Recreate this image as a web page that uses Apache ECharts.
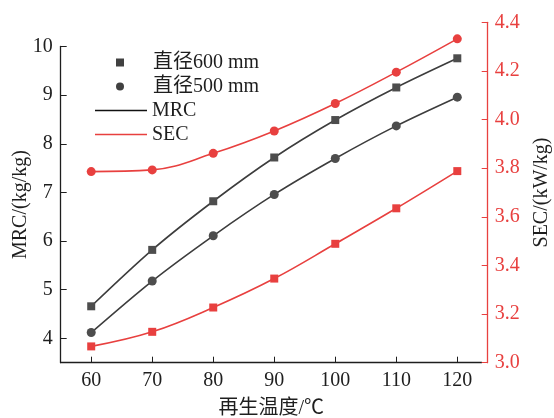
<!DOCTYPE html>
<html><head><meta charset="utf-8">
<script src="https://cdn.jsdelivr.net/npm/echarts@6/dist/echarts.min.js"></script>
<style>html,body{margin:0;padding:0;background:#fff;}#c{width:554px;height:418px;}</style>
</head><body><div id="c"></div>
<script>
const temps = [60, 70, 80, 90, 100, 110, 120];
const mrc600 = [4.66, 5.82, 6.82, 7.72, 8.49, 9.16, 9.76];
const mrc500 = [4.12, 5.18, 6.11, 6.96, 7.70, 8.37, 8.96];
const sec600 = [3.067, 3.127, 3.227, 3.346, 3.489, 3.635, 3.788];
const sec500 = [3.786, 3.793, 3.861, 3.953, 4.066, 4.195, 4.332];
const xTicks = [60, 70, 80, 90, 100, 110, 120];
const mrcTicks = [4, 5, 6, 7, 8, 9, 10];

const FONT = "'Liberation Serif', 'Times New Roman', 'Noto Sans CJK SC', serif";
const RED = '#e8403f';
const DARK = '#3d3d3d';
const MARK = '#4d4d4d';
const AX = '#1e1e1e';

function pairs(ys) { return temps.map((t, i) => [t, ys[i]]); }

const chart = echarts.init(document.getElementById('c'), null, {renderer: 'canvas'});
chart.setOption({
  animation: false,
  backgroundColor: '#fff',
  textStyle: {fontFamily: FONT},
  grid: [
    {left: 60.7, right: 72.3, top: 22.3, bottom: 55.3, containLabel: false, outerBoundsMode: 'none'},
    {left: 60.7, right: 72.3, top: 46.5, bottom: 55.3, containLabel: false, outerBoundsMode: 'none'}
  ],
  xAxis: [
    {type: 'value', gridIndex: 0, min: 55, max: 124,
     axisLine: {lineStyle: {color: AX, width: 1.3}},
     axisTick: {inside: true, length: 6, customValues: xTicks, lineStyle: {color: AX}},
     axisLabel: {customValues: xTicks, color: AX, fontSize: 20, fontFamily: FONT, margin: 8},
     splitLine: {show: false},
     name: '再生温度/℃', nameLocation: 'middle', nameGap: 36, nameMoveOverlap: false,
     nameTextStyle: {color: AX, fontSize: 20, fontFamily: FONT}},
    {type: 'value', gridIndex: 1, min: 55, max: 124, show: false}
  ],
  yAxis: [
    {type: 'value', gridIndex: 0, min: 3.5, max: 10.5, show: false, splitLine: {show: false}},
    {type: 'value', gridIndex: 0, position: 'right', offset: 6, min: 3.0, max: 4.4, interval: 0.2,
     axisLine: {show: true, lineStyle: {color: RED, width: 1.3}},
     axisTick: {show: true, inside: true, length: 6, lineStyle: {color: RED}},
     axisLabel: {color: RED, fontSize: 20, fontFamily: FONT, margin: 7, formatter: v => v.toFixed(1)},
     splitLine: {show: false},
     name: 'SEC/(kW/kg)', nameLocation: 'middle', nameRotate: 90, nameGap: 44, nameMoveOverlap: false,
     nameTextStyle: {color: AX, fontSize: 20, fontFamily: FONT}},
    {type: 'value', gridIndex: 1, min: 3.5, max: 10,
     axisLine: {show: true, lineStyle: {color: AX, width: 1.3}},
     axisTick: {show: true, inside: true, length: 6, customValues: mrcTicks, lineStyle: {color: AX}},
     axisLabel: {customValues: mrcTicks, color: AX, fontSize: 20, fontFamily: FONT, margin: 8},
     splitLine: {show: false},
     name: 'MRC/(kg/kg)', nameLocation: 'middle', nameRotate: 90, nameGap: 30, nameMoveOverlap: false,
     nameTextStyle: {color: AX, fontSize: 20, fontFamily: FONT}}
  ],
  legend: [
    {data: [{name: '直径600 mm', icon: 'rect'}, {name: '直径500 mm', icon: 'circle'}],
     orient: 'vertical', left: 116, top: 52.5, padding: 0, itemGap: 4,
     itemWidth: 8, itemHeight: 8, selectedMode: false,
     formatter: n => '{s|}' + n,
     textStyle: {color: AX, fontSize: 20, fontFamily: FONT, rich: {s: {width: 24}}}},
    {data: [{name: 'MRC', icon: 'rect'}, {name: 'SEC', icon: 'rect'}],
     orient: 'vertical', left: 95, top: 100.5, padding: 0, itemGap: 4,
     itemWidth: 52, itemHeight: 1.6, selectedMode: false,
     textStyle: {color: AX, fontSize: 20, fontFamily: FONT}}
  ],
  series: [
    {name: '直径600 mm', type: 'scatter', data: [], itemStyle: {color: '#111'}},
    {name: '直径500 mm', type: 'scatter', data: [], itemStyle: {color: '#111'}},
    {name: 'MRC', type: 'line', data: [], itemStyle: {color: '#111'}, lineStyle: {color: '#111'}},
    {name: 'SEC', type: 'line', data: [], itemStyle: {color: RED}, lineStyle: {color: RED}},
    {name: 'MRC 600', type: 'line', xAxisIndex: 0, yAxisIndex: 0, data: pairs(mrc600), smooth: 0.3,
     symbol: 'rect', symbolSize: 8, lineStyle: {color: DARK, width: 1.6}, itemStyle: {color: MARK}},
    {name: 'MRC 500', type: 'line', xAxisIndex: 0, yAxisIndex: 0, data: pairs(mrc500), smooth: 0.3,
     symbol: 'circle', symbolSize: 9, lineStyle: {color: DARK, width: 1.6}, itemStyle: {color: MARK}},
    {name: 'SEC 600', type: 'line', xAxisIndex: 0, yAxisIndex: 1, data: pairs(sec600), smooth: 0.4,
     symbol: 'rect', symbolSize: 8, lineStyle: {color: RED, width: 1.6}, itemStyle: {color: RED}},
    {name: 'SEC 500', type: 'line', xAxisIndex: 0, yAxisIndex: 1, data: pairs(sec500), smooth: 0.4,
     symbol: 'circle', symbolSize: 9, lineStyle: {color: RED, width: 1.6}, itemStyle: {color: RED}}
  ]
});
</script></body></html>
